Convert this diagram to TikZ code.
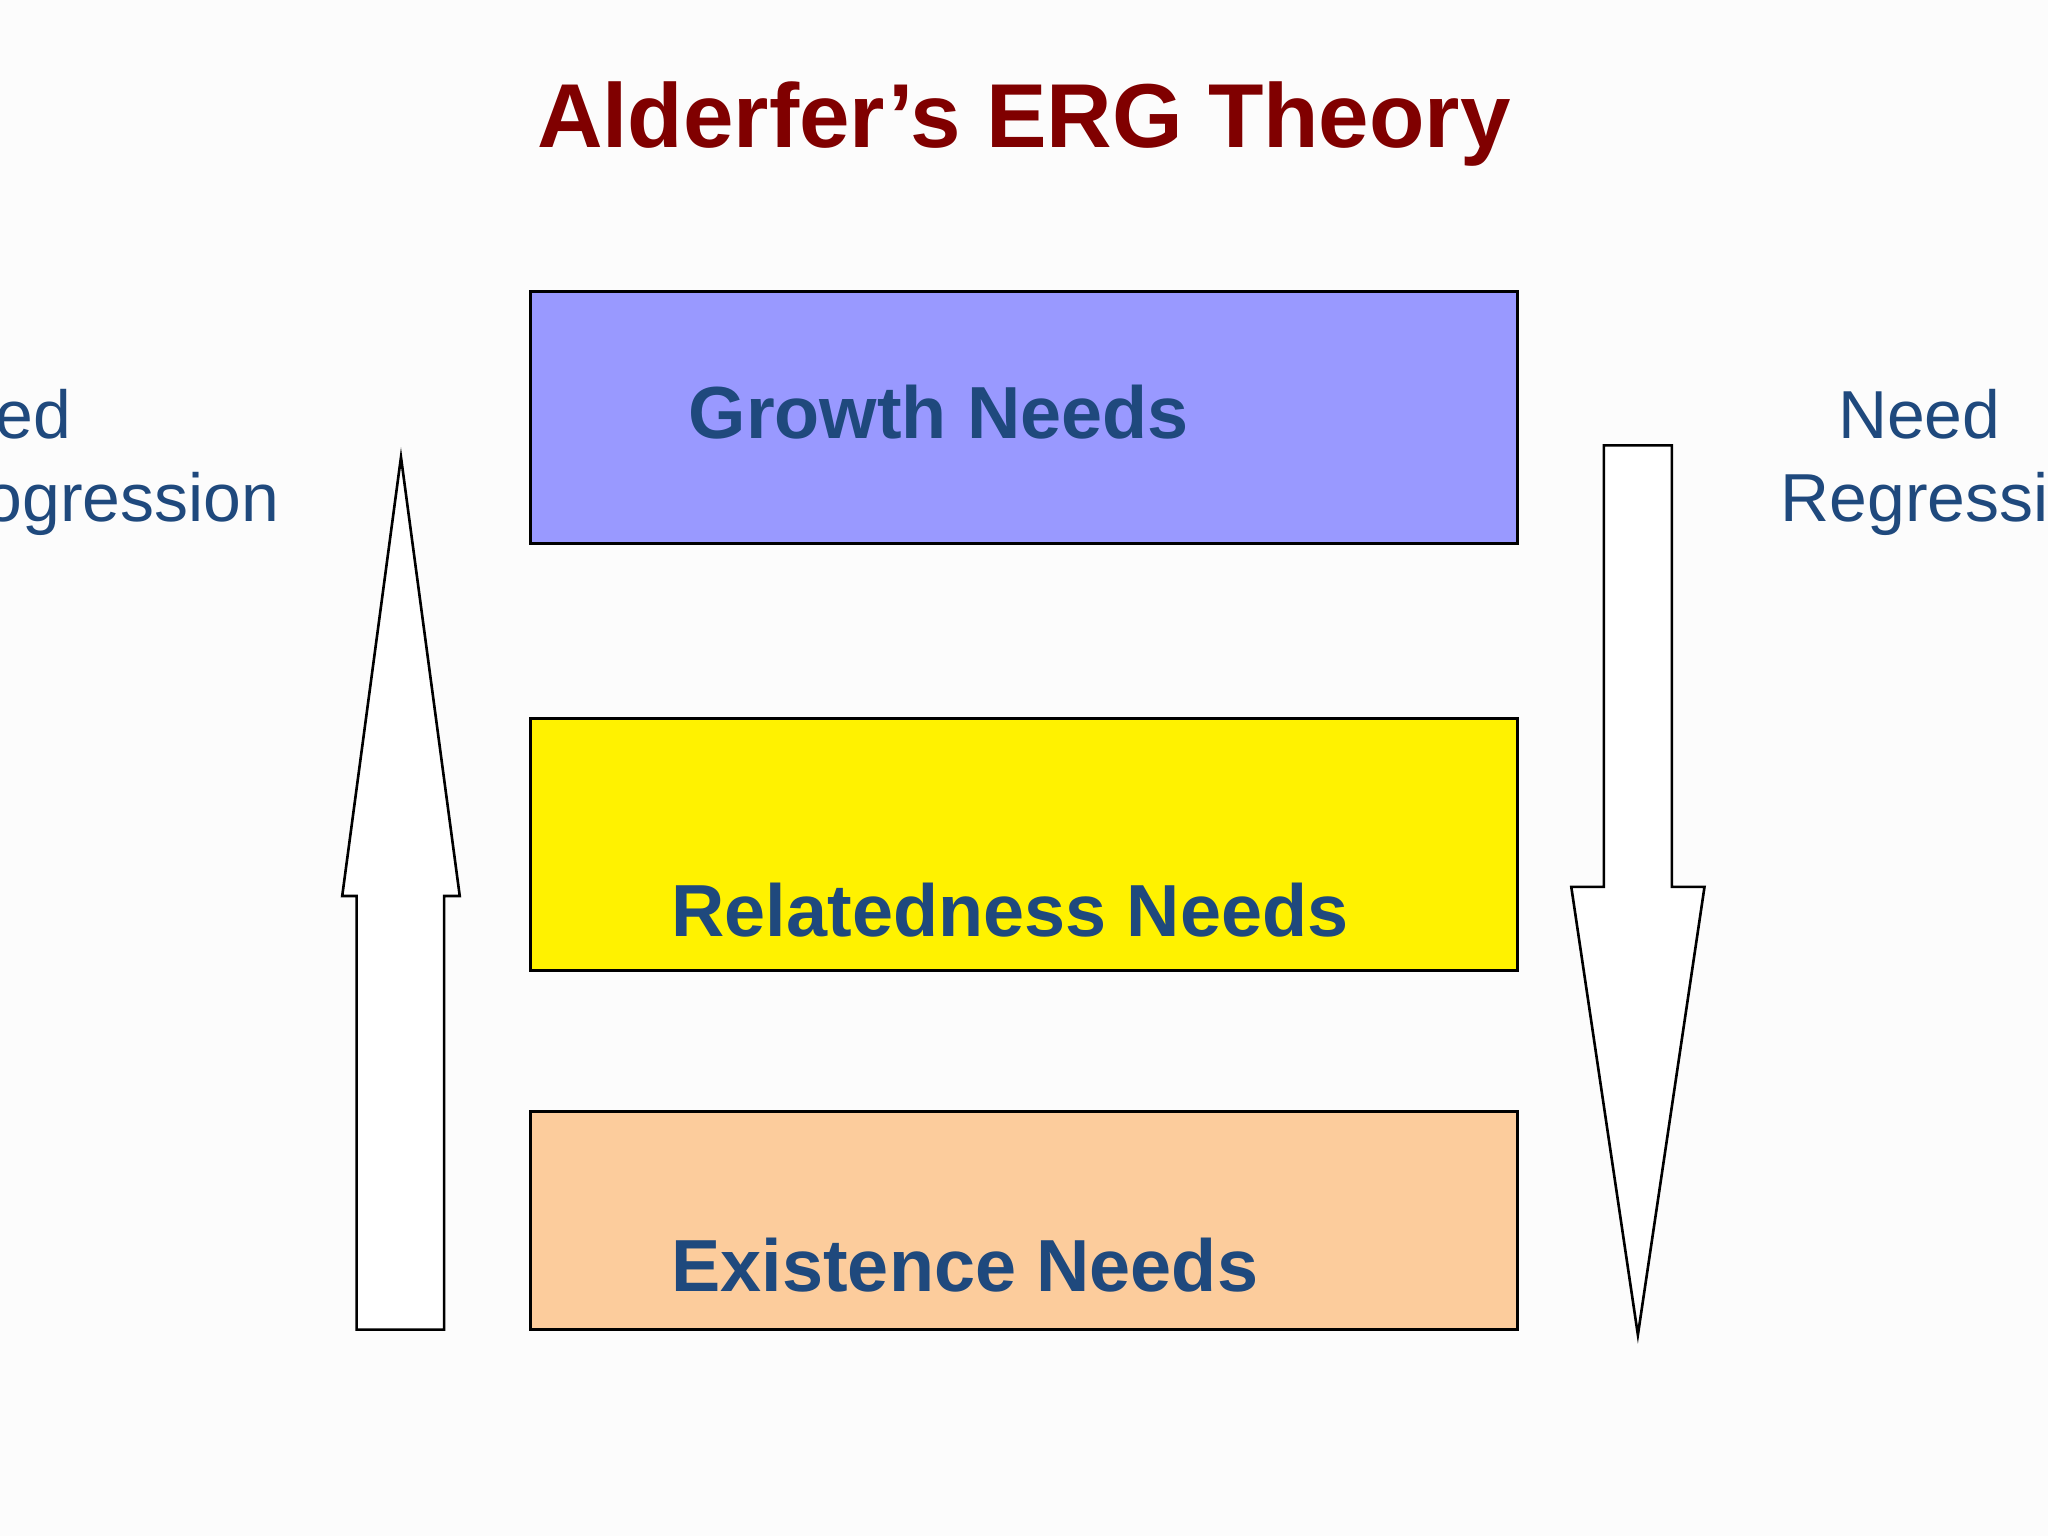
\documentclass[tikz,border=0pt]{standalone}
\usepackage{fontspec}
\setmainfont{Liberation Sans}
\definecolor{txtblue}{HTML}{1F497D}
\definecolor{ttl}{HTML}{800000}
\definecolor{gbox}{HTML}{9999FF}
\definecolor{ebox}{HTML}{FCCC9C}
\tikzset{box/.style={draw=black,line width=2pt},
 lbl/.style={text=txtblue,font=\fontsize{56.5}{64}\selectfont\bfseries,anchor=base west,inner sep=0},
 side/.style={text=txtblue,font=\fontsize{52}{60}\selectfont,anchor=base west,inner sep=0},
 arr/.style={draw=black,line width=2pt,fill=white}}
\begin{document}
\begin{tikzpicture}[x=1pt,y=-1pt]
\fill[white!99!black] (0,0) rectangle (1568,1176);
\useasboundingbox (0,0) rectangle (1568,1176);
\begin{scope}
\clip (0,0) rectangle (1568,1176);
\node[text=ttl,font=\fontsize{69.5}{74}\selectfont\bfseries,anchor=base,inner sep=0] (title) at (784,113) {Alderfer’s ERG Theory};
\draw[box,fill=gbox] (406,223) rectangle (1162,416);
\draw[box,fill=yellow] (406,550) rectangle (1162,743);
\draw[box,fill=ebox] (406,851) rectangle (1162,1018);
\node[lbl] (g) at (527,336) {Growth Needs};
\node[lbl] (r) at (514,717) {Relatedness Needs};
\node[lbl] (e) at (514,989) {Existence Needs};
\draw[arr] (273,1018) -- (340,1018) -- (340,686) -- (352,686) -- (307,350) -- (262,686) -- (273,686) -- cycle;
\draw[arr] (1228,341) -- (1280,341) -- (1280,679) -- (1305,679) -- (1254,1022) -- (1203,679) -- (1228,679) -- cycle;
\node[side] (ln) at (-70,336) {Need};
\node[side] (lp) at (-64,399) {Progression};
\node[side] (rn) at (1407,336) {Need};
\node[side] (rr) at (1363,399) {Regression};
\end{scope}
\end{tikzpicture}
\end{document}
